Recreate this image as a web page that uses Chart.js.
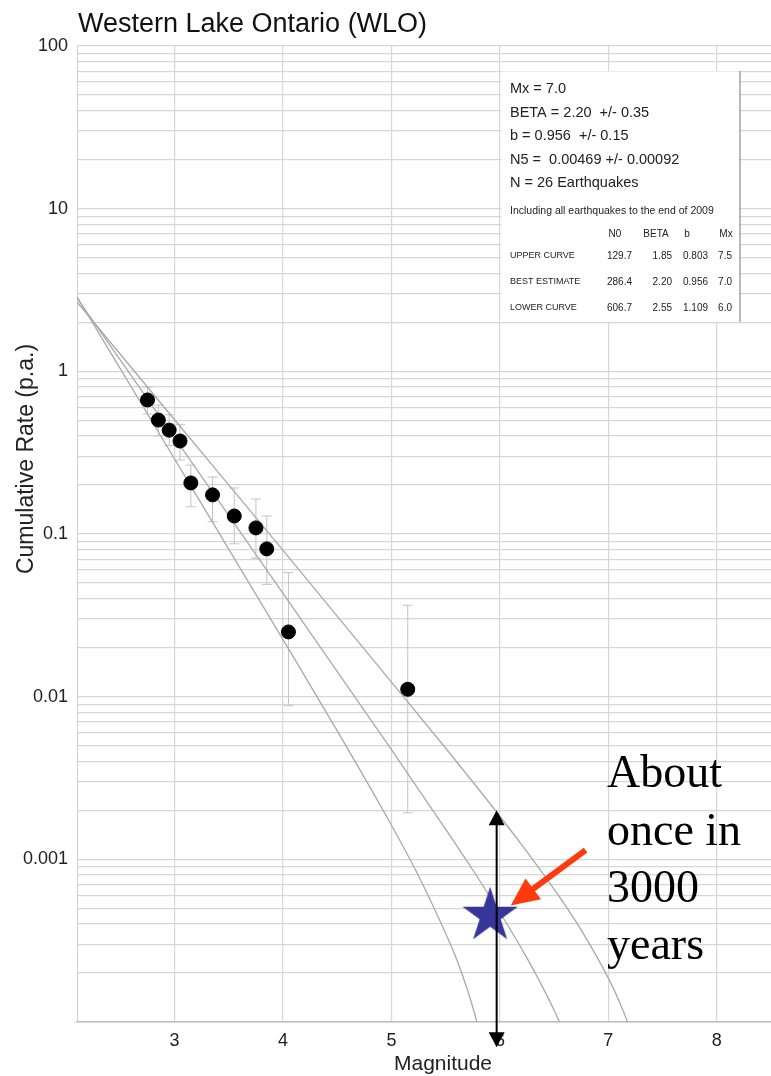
<!DOCTYPE html>
<html>
<head>
<meta charset="utf-8">
<script src="https://cdn.jsdelivr.net/npm/chart.js@4.4.1/dist/chart.umd.min.js"></script>
<style>
  html, body { margin: 0; padding: 0; background: #fff; }
  #wrap { width: 771px; height: 1076px; }
</style>
</head>
<body>
<div id="wrap"><canvas id="grChart" width="771" height="1076"></canvas></div>
<script>
// ---- observed cumulative rates (binned) ----
const obsMag  = [2.75, 2.85, 2.95, 3.05, 3.15, 3.35, 3.55, 3.75, 3.85, 4.05, 5.15];
const obsRate = [0.667, 0.502, 0.435, 0.373, 0.206, 0.174, 0.129, 0.109, 0.081, 0.025, 0.0111];
const obsHigh = [0.80, 0.62, 0.54, 0.47, 0.265, 0.224, 0.192, 0.164, 0.129, 0.058, 0.0365];
const obsLow  = [0.547, 0.40, 0.35, 0.285, 0.147, 0.119, 0.087, 0.071, 0.049, 0.0088, 0.00193];

// ---- recurrence curves ----
const upperMag  = [2.1, 3, 4, 5, 5.5, 6, 6.25, 6.5, 6.75, 7, 7.1, 7.2, 7.3];
const upperRate = [2.67, 0.504, 0.0793, 0.0123, 0.00482, 0.00184, 0.00111, 0.000655, 0.000367, 0.000186, 0.000134, 0.0000906, 0.000055];
const bestMag   = [2.1, 3, 4, 5, 5.5, 5.75, 6, 6.25, 6.4, 6.5, 6.6, 6.7];
const bestRate  = [2.82, 0.390, 0.0431, 0.00472, 0.00153, 0.00086, 0.000471, 0.000247, 0.000161, 0.000118, 0.000083, 0.000055];
const lowerMag  = [2.1, 3, 4, 4.5, 5, 5.25, 5.5, 5.6, 5.7, 5.8, 5.9];
const lowerRate = [2.87, 0.289, 0.0224, 0.00616, 0.00162, 0.00079, 0.00035, 0.000244, 0.000158, 0.000092, 0.00004];

// ---- annotation marks ----
const starMag = [5.91];
const starRate = [0.00045];
const rangeArrowMag = 5.97;
const rangeArrowRate = [0.002, 0.00007];     // top tip, bottom tip
const pointerMag = [6.79, 6.10];             // tail, tip
const pointerRate = [0.00114, 0.00052];

// ---- ticks ----
const xTickValues = [3, 4, 5, 6, 7, 8];
const xTickLabels = ['3', '4', '5', '6', '7', '8'];
const yLabelValues = [100, 10, 1, 0.1, 0.01, 0.001];
const yTickLabels = ['100', '10', '1', '0.1', '0.01', '0.001'];

// ---- info box text ----
const infoLines = ['Mx = 7.0', 'BETA = 2.20  +/- 0.35', 'b = 0.956  +/- 0.15', 'N5 =  0.00469 +/- 0.00092', 'N = 26 Earthquakes'];
const infoNote = 'Including all earthquakes to the end of 2009';
const tableHead = ['N0', 'BETA', 'b', 'Mx'];
const tableRows = ['UPPER CURVE', 'BEST ESTIMATE', 'LOWER CURVE'];
const tableVals = [
    ['129.7', '1.85', '0.803', '7.5'],
    ['286.4', '2.20', '0.956', '7.0'],
    ['606.7', '2.55', '1.109', '6.0']
];
const noteLines = ['About', 'once in', '3000', 'years'];

const SANS = '"Liberation Sans", Arial, Helvetica, sans-serif';
const SERIF = '"Liberation Serif", "Times New Roman", serif';

function toXY(xs, ys) {
    return xs.map((x, i) => ({ x: x, y: ys[i] }));
}

// filled five point star used as point style
function makeStar(r, color) {
    const c = document.createElement('canvas');
    const size = Math.ceil(r * 2 + 2);
    c.width = size;
    c.height = size;
    const g = c.getContext('2d');
    const ri = r * 0.382;
    g.beginPath();
    for (let i = 0; i < 10; i++) {
        const rad = i % 2 === 0 ? r : ri;
        const a = -Math.PI / 2 + i * Math.PI / 5;
        g.lineTo(size / 2 + rad * Math.cos(a), size / 2 + rad * Math.sin(a));
    }
    g.closePath();
    g.fillStyle = color;
    g.fill();
    return c;
}

function arrowHead(ctx, tipX, tipY, angle, len, half) {
    ctx.beginPath();
    ctx.moveTo(tipX, tipY);
    ctx.lineTo(tipX - len * Math.cos(angle) + half * Math.sin(angle), tipY - len * Math.sin(angle) - half * Math.cos(angle));
    ctx.lineTo(tipX - len * Math.cos(angle) - half * Math.sin(angle), tipY - len * Math.sin(angle) + half * Math.cos(angle));
    ctx.closePath();
    ctx.fill();
}

const overlayPlugin = {
    id: 'overlay',
    beforeDatasetsDraw(chart) {
        const ctx = chart.ctx;
        const xs = chart.scales.x, ys = chart.scales.y;
        ctx.save();

        // info box
        ctx.fillStyle = '#fff';
        ctx.fillRect(501.5, 71.5, 238.5, 250.5);
        ctx.strokeStyle = '#8a8a8a';
        ctx.lineWidth = 1.2;
        ctx.beginPath();
        ctx.moveTo(740, 71);
        ctx.lineTo(740, 322);
        ctx.stroke();

        ctx.fillStyle = '#222';
        ctx.textBaseline = 'middle';
        ctx.textAlign = 'left';
        ctx.font = '14.5px ' + SANS;
        infoLines.forEach((t, i) => ctx.fillText(t, 510, 89 + i * 23.6));
        ctx.font = '10.5px ' + SANS;
        ctx.fillText(infoNote, 510, 211);

        ctx.font = '10px ' + SANS;
        ctx.textAlign = 'center';
        const headX = [615, 656, 687, 726];
        tableHead.forEach((t, i) => ctx.fillText(t, headX[i], 234));
        const valX = [632, 672, 708, 732];
        tableRows.forEach((row, r) => {
            const y = 256 + r * 26;
            ctx.textAlign = 'left';
            ctx.font = '9px ' + SANS;
            ctx.fillText(row, 510, y);
            ctx.textAlign = 'right';
            ctx.font = '10px ' + SANS;
            tableVals[r].forEach((v, i) => ctx.fillText(v, valX[i], y));
        });

        // error bars behind the dots
        ctx.strokeStyle = '#c4c4c4';
        ctx.lineWidth = 1;
        obsMag.forEach((m, i) => {
            const px = xs.getPixelForValue(m);
            const top = ys.getPixelForValue(obsHigh[i]);
            const bot = ys.getPixelForValue(obsLow[i]);
            ctx.beginPath();
            ctx.moveTo(px, top); ctx.lineTo(px, bot);
            ctx.moveTo(px - 5, top); ctx.lineTo(px + 5, top);
            ctx.moveTo(px - 5, bot); ctx.lineTo(px + 5, bot);
            ctx.stroke();
        });
        ctx.restore();
    },
    afterDraw(chart) {
        const ctx = chart.ctx;
        const xs = chart.scales.x, ys = chart.scales.y;
        ctx.save();

        // title and axis titles
        ctx.fillStyle = '#111';
        ctx.textAlign = 'left';
        ctx.textBaseline = 'alphabetic';
        ctx.font = '27px ' + SANS;
        ctx.fillText('Western Lake Ontario (WLO)', 78, 32);

        ctx.fillStyle = '#222';
        ctx.textAlign = 'center';
        ctx.textBaseline = 'middle';
        ctx.font = '21px ' + SANS;
        ctx.fillText('Magnitude', 443, 1064);
        ctx.save();
        ctx.translate(27, 459);
        ctx.rotate(-Math.PI / 2);
        ctx.font = '23px ' + SANS;
        ctx.fillText('Cumulative Rate (p.a.)', 0, 0);
        ctx.restore();

        // vertical double headed arrow
        const ax = xs.getPixelForValue(rangeArrowMag);
        const aTop = ys.getPixelForValue(rangeArrowRate[0]);
        const aBot = ys.getPixelForValue(rangeArrowRate[1]);
        ctx.strokeStyle = '#000';
        ctx.fillStyle = '#000';
        ctx.lineWidth = 2;
        ctx.beginPath();
        ctx.moveTo(ax, aTop + 12);
        ctx.lineTo(ax, aBot - 12);
        ctx.stroke();
        arrowHead(ctx, ax, aTop, -Math.PI / 2, 15, 8);
        arrowHead(ctx, ax, aBot, Math.PI / 2, 15, 8);

        // red pointer arrow
        const tx = xs.getPixelForValue(pointerMag[0]), ty = ys.getPixelForValue(pointerRate[0]);
        const hx = xs.getPixelForValue(pointerMag[1]), hy = ys.getPixelForValue(pointerRate[1]);
        const ang = Math.atan2(hy - ty, hx - tx);
        ctx.strokeStyle = '#ff3a0c';
        ctx.fillStyle = '#ff3a0c';
        ctx.lineWidth = 6;
        ctx.beginPath();
        ctx.moveTo(tx, ty);
        ctx.lineTo(hx - 22 * Math.cos(ang), hy - 22 * Math.sin(ang));
        ctx.stroke();
        arrowHead(ctx, hx, hy, ang, 28, 13);

        // note text
        ctx.fillStyle = '#000';
        ctx.textAlign = 'left';
        ctx.textBaseline = 'alphabetic';
        ctx.font = '46px ' + SERIF;
        const baselines = [787, 845, 902, 959];
        noteLines.forEach((t, i) => ctx.fillText(t, 607, baselines[i]));
        ctx.restore();
    }
};

const ctx = document.getElementById('grChart').getContext('2d');
const curveStyle = {
    showLine: true,
    borderColor: '#a9a9a9',
    borderWidth: 1.3,
    pointRadius: 0,
    cubicInterpolationMode: 'monotone',
    fill: false
};

const grChart = new Chart(ctx, {
    type: 'scatter',
    data: {
        datasets: [
            {
                label: 'Return period',
                data: toXY(starMag, starRate),
                pointStyle: makeStar(29, '#35359a'),
                pointRadius: 30,
                order: 0
            },
            {
                label: 'Observed',
                data: toXY(obsMag, obsRate),
                backgroundColor: '#000',
                borderColor: '#000',
                pointRadius: 7,
                order: 1
            },
            Object.assign({ label: 'Upper curve', data: toXY(upperMag, upperRate), order: 2 }, curveStyle),
            Object.assign({ label: 'Best estimate', data: toXY(bestMag, bestRate), order: 2 }, curveStyle),
            Object.assign({ label: 'Lower curve', data: toXY(lowerMag, lowerRate), order: 2 }, curveStyle)
        ]
    },
    options: {
        responsive: false,
        animation: false,
        devicePixelRatio: 1,
        layout: { autoPadding: false, padding: { top: 46, left: 0, right: 0, bottom: 0 } },
        plugins: {
            legend: { display: false },
            tooltip: { enabled: false },
            title: { display: false }
        },
        scales: {
            x: {
                type: 'linear',
                min: 2.1,
                max: 8.5,
                afterBuildTicks: function(scale) {
                    scale.ticks = xTickValues.map(v => ({ value: v }));
                },
                afterFit: function(scale) {
                    scale.height = 54;
                },
                grid: { color: '#d6d6d6', lineWidth: 1.2, drawTicks: false },
                border: { display: true, color: '#bdbdbd', width: 1.5 },
                ticks: {
                    autoSkip: false,
                    maxRotation: 0,
                    padding: 8,
                    color: '#222',
                    font: { family: SANS, size: 18 },
                    callback: function(value) {
                        const i = xTickValues.indexOf(value);
                        return i >= 0 ? xTickLabels[i] : '';
                    }
                }
            },
            y: {
                type: 'logarithmic',
                min: 0.0001,
                max: 100,
                afterBuildTicks: function(scale) {
                    // keep 1..9 x 10^n only
                    scale.ticks = scale.ticks.filter(t => {
                        const s = t.value / Math.pow(10, Math.floor(Math.log10(t.value) + 1e-9));
                        return Math.abs(s - Math.round(s)) < 1e-6;
                    });
                },
                afterFit: function(scale) {
                    scale.width = 77;
                },
                grid: { color: '#d6d6d6', lineWidth: 1.2, drawTicks: false },
                border: { display: true, color: '#cfcfcf', width: 1 },
                ticks: {
                    autoSkip: false,
                    padding: 9,
                    color: '#222',
                    font: { family: SANS, size: 18 },
                    callback: function(value) {
                        const i = yLabelValues.findIndex(v => Math.abs(value - v) < v * 1e-6);
                        return i >= 0 ? yTickLabels[i] : '';
                    }
                }
            }
        }
    },
    plugins: [overlayPlugin]
});
</script>
</body>
</html>
